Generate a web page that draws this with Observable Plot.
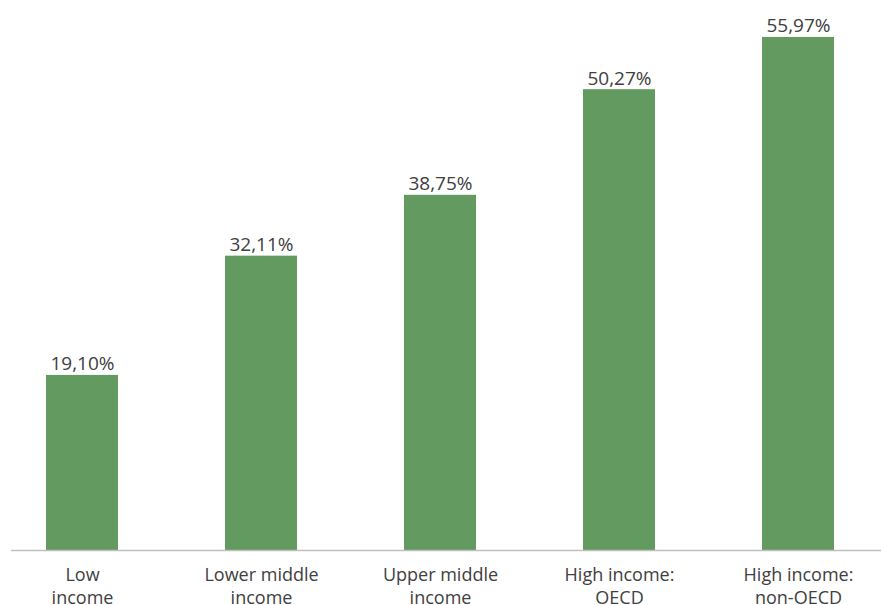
<!DOCTYPE html>
<html>
<head>
<meta charset="utf-8">
<script src="https://cdn.jsdelivr.net/npm/d3@7"></script>
<script src="https://cdn.jsdelivr.net/npm/@observablehq/plot@0.6"></script>
<style>
  html, body { margin: 0; padding: 0; background: #fff; }
  #chart { width: 881px; height: 605px; }
</style>
</head>
<body>
<div id="chart"></div>
<script>
const categories = [
  "Low\nincome",
  "Lower middle\nincome",
  "Upper middle\nincome",
  "High income:\nOECD",
  "High income:\nnon-OECD"
];
const values = [19.10, 32.11, 38.75, 50.27, 55.97];
const valueLabels = ["19,10%", "32,11%", "38,75%", "50,27%", "55,97%"];

const data = categories.map((c, i) => ({category: c, value: values[i], label: valueLabels[i]}));

const chart = Plot.plot({
  width: 881,
  height: 605,
  marginTop: 0,
  marginBottom: 55,
  marginLeft: 11,
  marginRight: 0,
  style: {fontFamily: "'Open Sans', sans-serif", color: "#404040", background: "#fff"},
  x: {domain: categories, range: [-9, 889], paddingInner: 0.6, paddingOuter: 0.3, label: null},
  y: {domain: [0, 60], range: [550, 0], axis: null},
  marks: [
    Plot.barY(data, {x: "category", y: "value", fill: "#629a5f"}),
    Plot.ruleY([0], {stroke: "#bfbfbf", strokeWidth: 1.5}),
    Plot.text(data, {x: "category", y: "value", text: "label", lineAnchor: "bottom", dy: -5, fontSize: 19, fill: "#404040"}),
    Plot.axisX({tickSize: 0, tickPadding: 14, fontSize: 18, lineHeight: 1.28, fill: "#404040", label: null})
  ]
});
document.getElementById("chart").appendChild(chart);
</script>
</body>
</html>
